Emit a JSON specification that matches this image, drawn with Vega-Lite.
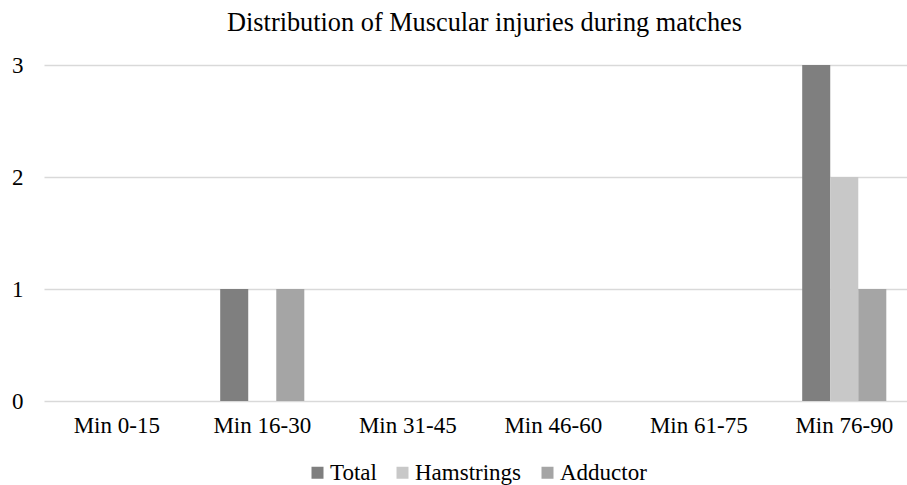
{
  "$schema": "https://vega.github.io/schema/vega-lite/v6.json",
  "autosize": "none",
  "width": 863,
  "height": 336,
  "padding": {"left": 44, "top": 65, "right": 0, "bottom": 84},
  "background": "white",
  "title": {
    "text": "Distribution of Muscular injuries during matches",
    "font": "Liberation Serif",
    "fontSize": 26.3,
    "fontWeight": "normal",
    "color": "#000000",
    "anchor": "middle",
    "frame": "group",
    "dx": 9,
    "offset": 18
  },
  "config": {
    "view": {"stroke": null},
    "font": "Liberation Serif",
    "axis": {"labelFont": "Liberation Serif", "titleFont": "Liberation Serif"},
    "legend": {"labelFont": "Liberation Serif", "titleFont": "Liberation Serif"}
  },
  "data": {
    "values": [
      {"period": "Min 0-15", "type": "Total", "count": 0},
      {"period": "Min 0-15", "type": "Hamstrings", "count": 0},
      {"period": "Min 0-15", "type": "Adductor", "count": 0},
      {"period": "Min 16-30", "type": "Total", "count": 1},
      {"period": "Min 16-30", "type": "Hamstrings", "count": 0},
      {"period": "Min 16-30", "type": "Adductor", "count": 1},
      {"period": "Min 31-45", "type": "Total", "count": 0},
      {"period": "Min 31-45", "type": "Hamstrings", "count": 0},
      {"period": "Min 31-45", "type": "Adductor", "count": 0},
      {"period": "Min 46-60", "type": "Total", "count": 0},
      {"period": "Min 46-60", "type": "Hamstrings", "count": 0},
      {"period": "Min 46-60", "type": "Adductor", "count": 0},
      {"period": "Min 61-75", "type": "Total", "count": 0},
      {"period": "Min 61-75", "type": "Hamstrings", "count": 0},
      {"period": "Min 61-75", "type": "Adductor", "count": 0},
      {"period": "Min 76-90", "type": "Total", "count": 3},
      {"period": "Min 76-90", "type": "Hamstrings", "count": 2},
      {"period": "Min 76-90", "type": "Adductor", "count": 1}
    ]
  },
  "mark": {"type": "bar", "stroke": null},
  "encoding": {
    "x": {
      "field": "period",
      "type": "nominal",
      "sort": ["Min 0-15", "Min 16-30", "Min 31-45", "Min 46-60", "Min 61-75", "Min 76-90"],
      "scale": {"range": [0, 873], "paddingInner": 0.422, "paddingOuter": 0.211},
      "axis": {
        "title": null,
        "labelAngle": 0,
        "labelFont": "Liberation Serif",
        "labelFontSize": 23,
        "labelColor": "#000000",
        "labelPadding": 13,
        "ticks": false,
        "domain": false,
        "grid": false
      }
    },
    "xOffset": {
      "field": "type",
      "type": "nominal",
      "sort": ["Total", "Hamstrings", "Adductor"],
      "scale": {"paddingInner": 0, "paddingOuter": 0}
    },
    "y": {
      "field": "count",
      "type": "quantitative",
      "scale": {"domain": [0, 3], "nice": false},
      "axis": {
        "title": null,
        "values": [0, 1, 2, 3],
        "format": "d",
        "labelFont": "Liberation Serif",
        "labelFontSize": 23,
        "labelColor": "#000000",
        "labelPadding": 21,
        "ticks": false,
        "domain": false,
        "grid": true,
        "gridColor": "#d9d9d9",
        "gridWidth": 1.5
      }
    },
    "color": {
      "field": "type",
      "type": "nominal",
      "sort": ["Total", "Hamstrings", "Adductor"],
      "scale": {
        "domain": ["Total", "Hamstrings", "Adductor"],
        "range": ["#7f7f7f", "#c8c8c8", "#a5a5a5"]
      },
      "legend": {
        "title": null,
        "orient": "none",
        "direction": "horizontal",
        "legendX": 262,
        "legendY": 396,
        "symbolType": "square",
        "symbolSize": 144,
        "symbolStrokeWidth": 0,
        "labelFont": "Liberation Serif",
        "labelFontSize": 23,
        "labelColor": "#000000",
        "labelOffset": 1,
        "columnPadding": 14
      }
    }
  }
}
